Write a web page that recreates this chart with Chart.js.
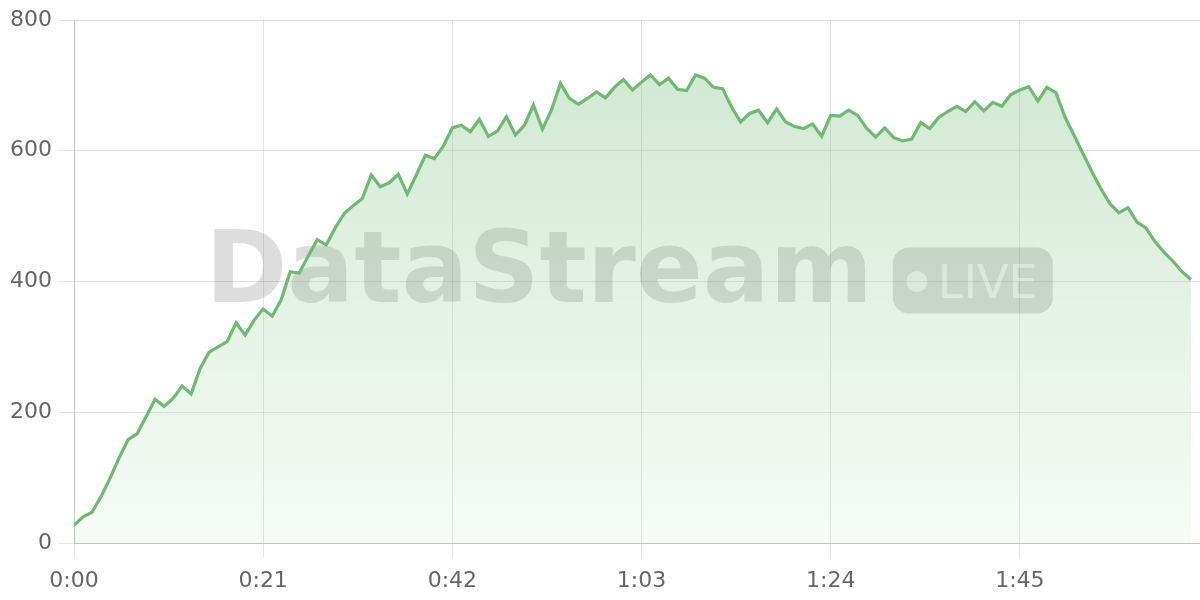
<!DOCTYPE html>
<html>
<head>
<meta charset="utf-8">
<script src="https://cdn.jsdelivr.net/npm/chart.js@4"></script>
<style>
  html, body { margin: 0; padding: 0; background: #fff; }
  #wrap { width: 1200px; height: 600px; position: relative; }
</style>
</head>
<body>
<div id="wrap"><canvas id="c"></canvas></div>
<script>
// ---- data ----
const values = [
  27, 40, 47, 71, 99, 130, 158, 167, 193, 220,
  209, 221, 240, 228, 267, 292, 300, 308, 337, 318,
  341, 358, 347, 372, 415, 413, 439, 464, 456, 482,
  504, 516, 527, 563, 545, 551, 564, 534, 563, 593,
  588, 607, 635, 639, 629, 648, 622, 630, 652, 624,
  639, 670, 633, 662, 703, 680, 671, 680, 690, 681,
  697, 709, 693, 705, 716, 701, 711, 694, 692, 716,
  711, 697, 695, 667, 644, 657, 662, 643, 664, 644,
  637, 634, 641, 622, 654, 653, 662, 654, 634, 621,
  635, 620, 615, 618, 643, 634, 651, 660, 668, 660,
  675, 661, 674, 668, 686, 693, 698, 676, 697, 689,
  652, 624, 596, 568, 542, 519, 505, 513, 491, 482,
  461, 445, 431, 415, 403
];
const tickSeconds = [0, 21, 42, 63, 84, 105];
const tickLabels = ['0:00', '0:21', '0:42', '1:03', '1:24', '1:45'];
const yTicks = [0, 200, 400, 600, 800];
const watermarkText = 'DataStream';
const badgeText = 'LIVE';

// ---- chart ----
const FONT = "'DejaVu Sans', sans-serif";
const points = values.map((v, i) => ({ x: i, y: v }));

const watermark = {
  id: 'watermark',
  beforeDraw(chart) {
    const { ctx, chartArea } = chart;
    const cx = (chartArea.left + chartArea.right) / 2 - 8;
    const cy = (chartArea.top + chartArea.bottom) / 2;
    ctx.save();
    ctx.font = "bold 99px " + FONT;
    const tw = ctx.measureText(watermarkText).width;
    const badgeW = 160, badgeH = 66, gap = 20;
    const total = tw + gap + badgeW;
    const x0 = cx - total / 2;
    ctx.fillStyle = 'rgba(0,0,0,0.135)';
    ctx.textBaseline = 'alphabetic';
    ctx.textAlign = 'left';
    ctx.fillText(watermarkText, x0, cy + 20.5);
    const bx = x0 + tw + gap, by = cy - 34;
    ctx.beginPath();
    ctx.roundRect(bx, by, badgeW, badgeH, 16);
    ctx.fill();
    ctx.fillStyle = 'rgba(255,255,255,0.7)';
    ctx.beginPath();
    ctx.arc(bx + 24, cy, 10.5, 0, Math.PI * 2);
    ctx.fill();
    ctx.font = "46px " + FONT;
    ctx.fillText(badgeText, bx + 45, cy + 16);
    ctx.restore();
  }
};

new Chart(document.getElementById('c'), {
  type: 'line',
  data: {
    datasets: [{
      data: points,
      borderColor: 'rgb(112,184,116)',
      borderWidth: 3.2,
      pointRadius: 0,
      tension: 0,
      fill: 'origin',
      backgroundColor(context) {
        const { chart } = context;
        const area = chart.chartArea;
        if (!area) return 'rgba(112,184,116,0.2)';
        const g = chart.ctx.createLinearGradient(0, area.top, 0, area.bottom);
        g.addColorStop(0, 'rgba(112,184,116,0.34)');
        g.addColorStop(1, 'rgba(112,184,116,0.06)');
        return g;
      }
    }]
  },
  options: {
    responsive: true,
    maintainAspectRatio: false,
    animation: false,
    layout: { padding: { top: 20, right: 0, left: 0, bottom: 0 } },
    plugins: { legend: { display: false }, tooltip: { enabled: false } },
    scales: {
      x: {
        type: 'linear',
        min: 0,
        max: 125,
        afterBuildTicks(scale) { scale.ticks = tickSeconds.map(v => ({ value: v })); },
        afterFit(scale) { scale.height = 57; },
        ticks: {
          autoSkip: false,
          maxRotation: 0,
          padding: 10,
          color: '#666',
          font: { family: FONT, size: 22 },
          callback(v) { const i = tickSeconds.indexOf(v); return i >= 0 ? tickLabels[i] : null; }
        },
        grid: { color: 'rgba(0,0,0,0.1)', tickLength: 15 },
        border: { color: 'rgba(0,0,0,0.16)' }
      },
      y: {
        min: 0,
        max: 800,
        afterBuildTicks(scale) { scale.ticks = yTicks.map(v => ({ value: v })); },
        afterFit(scale) { scale.width = 74; },
        ticks: {
          padding: 6,
          color: '#666',
          font: { family: FONT, size: 22 }
        },
        grid: { color: 'rgba(0,0,0,0.1)', tickLength: 16 },
        border: { color: 'rgba(0,0,0,0.14)' }
      }
    }
  },
  plugins: [watermark]
});
</script>
</body>
</html>
